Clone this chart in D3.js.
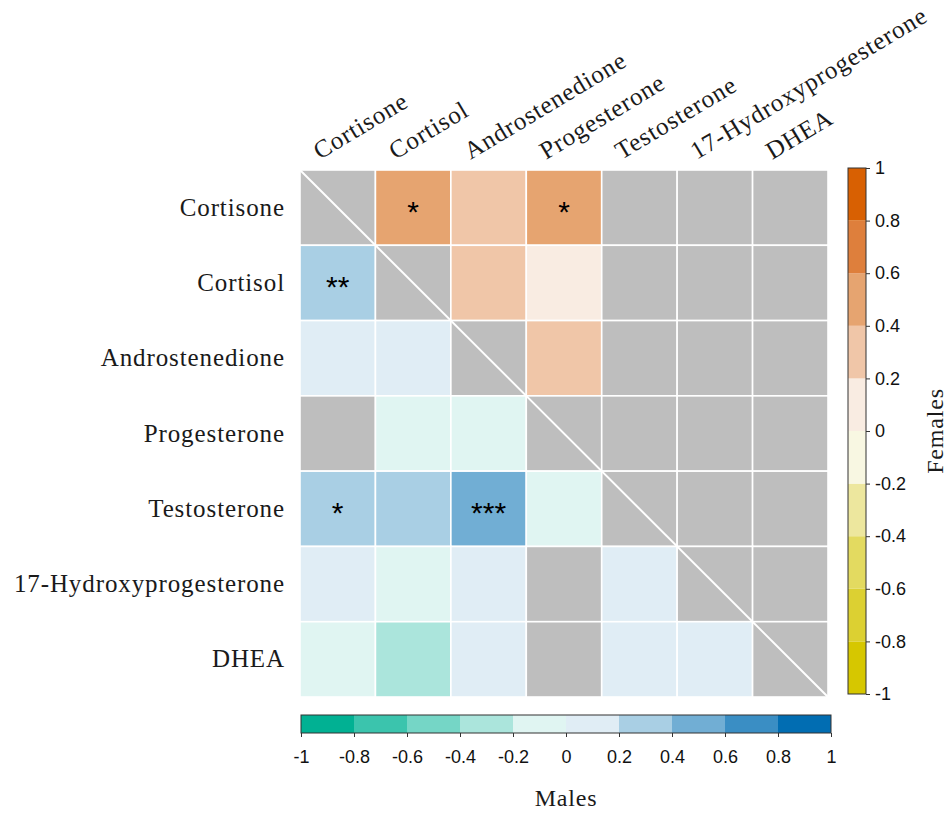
<!DOCTYPE html>
<html>
<head>
<meta charset="utf-8">
<script src="https://cdn.jsdelivr.net/npm/d3@7"></script>
<style>
  html, body { margin: 0; padding: 0; background: #fff; }
  svg { display: block; }
</style>
</head>
<body>
<svg id="chart" width="948" height="814"></svg>
<script>
// Hormones in matrix order (rows top to bottom, columns left to right)
const hormones = ["Cortisone", "Cortisol", "Androstenedione", "Progesterone",
                  "Testosterone", "17-Hydroxyprogesterone", "DHEA"];

// Upper triangle: correlations in females [row, col, r, significance]
const femaleCorr = [
  [0, 1, 0.47, "*"], [0, 2, 0.31, ""], [0, 3, 0.49, "*"],
  [1, 2, 0.33, ""], [1, 3, 0.08, ""],
  [2, 3, 0.32, ""]
];

// Lower triangle: correlations in males [row, col, r, significance]
const maleCorr = [
  [1, 0, 0.34, "**"],
  [2, 0, 0.12, ""], [2, 1, 0.10, ""],
  [3, 1, -0.09, ""], [3, 2, -0.11, ""],
  [4, 0, 0.32, "*"], [4, 1, 0.29, ""], [4, 2, 0.52, "***"], [4, 3, -0.07, ""],
  [5, 0, 0.09, ""], [5, 1, -0.12, ""], [5, 2, 0.13, ""], [5, 4, 0.06, ""],
  [6, 0, -0.14, ""], [6, 1, -0.31, ""], [6, 2, 0.11, ""], [6, 4, 0.15, ""], [6, 5, 0.07, ""]
];

// Ten-step palettes from -1 to 1
const femaleColors = ["#d6c700", "#dcd032", "#e3da60", "#ede79e", "#f8f7e2",
                      "#f9ece2", "#f0c6a8", "#e6a470", "#de7f3c", "#d86002"];
const maleColors = ["#01b193", "#3bc4ad", "#75d6c6", "#abe5dc", "#e0f5f2",
                    "#e0edf5", "#a9cfe4", "#71aed4", "#3a8ec4", "#016db2"];
const tickValues = [-1, -0.8, -0.6, -0.4, -0.2, 0, 0.2, 0.4, 0.6, 0.8, 1];
const missingColor = "#bebebe";

const svg = d3.select("#chart");
const serif = "'Liberation Serif', 'DejaVu Serif', serif";
const sans = "'Liberation Sans', Arial, sans-serif";

const grid = { left: 300, right: 828, top: 170, bottom: 697 };
const x = d3.scaleBand().domain(d3.range(hormones.length)).range([grid.left, grid.right]);
const y = d3.scaleBand().domain(d3.range(hormones.length)).range([grid.top, grid.bottom]);

const femaleScale = d3.scaleQuantize().domain([-1, 1]).range(femaleColors);
const maleScale = d3.scaleQuantize().domain([-1, 1]).range(maleColors);

// Build the full cell list: every cell grey unless a correlation exists
const lookup = new Map();
femaleCorr.forEach(([r, c, v, s]) => lookup.set(r + "-" + c, { v, s, color: femaleScale(v) }));
maleCorr.forEach(([r, c, v, s]) => lookup.set(r + "-" + c, { v, s, color: maleScale(v) }));
const cells = [];
for (let r = 0; r < hormones.length; r++) {
  for (let c = 0; c < hormones.length; c++) {
    const d = lookup.get(r + "-" + c);
    cells.push({ r, c, color: d ? d.color : missingColor, s: d ? d.s : "" });
  }
}

const cellG = svg.append("g");
cellG.selectAll("rect").data(cells).join("rect")
  .attr("x", d => x(d.c))
  .attr("y", d => y(d.r))
  .attr("width", x.bandwidth())
  .attr("height", y.bandwidth())
  .attr("fill", d => d.color)
  .attr("stroke", "#fff")
  .attr("stroke-width", 1.6);

// Diagonal separator
svg.append("line")
  .attr("x1", grid.left).attr("y1", grid.top)
  .attr("x2", grid.right).attr("y2", grid.bottom)
  .attr("stroke", "#fff").attr("stroke-width", 2);

// Significance stars
cellG.selectAll("text").data(cells.filter(d => d.s)).join("text")
  .attr("x", d => x(d.c) + x.bandwidth() / 2)
  .attr("y", d => y(d.r) + y.bandwidth() / 2 + 14)
  .attr("text-anchor", "middle")
  .attr("font-family", sans)
  .attr("font-size", 30)
  .attr("fill", "#000")
  .text(d => d.s);

// Row labels
svg.append("g").selectAll("text").data(hormones).join("text")
  .attr("x", 285)
  .attr("y", (d, i) => y(i) + y.bandwidth() / 2 + 8)
  .attr("text-anchor", "end")
  .attr("font-family", serif)
  .attr("font-size", 25)
  .attr("letter-spacing", 0.9)
  .attr("fill", "#1a1a1a")
  .text(d => d);

// Column labels, tilted
svg.append("g").selectAll("text").data(hormones).join("text")
  .attr("transform", (d, i) => `translate(${x(i) + x.bandwidth() / 2 - 18},160) rotate(-31)`)
  .attr("text-anchor", "start")
  .attr("font-family", serif)
  .attr("font-size", 25)
  .attr("letter-spacing", 0.9)
  .attr("fill", "#1a1a1a")
  .text(d => d);

const plainFormat = d => String(d);

// Vertical colour bar (females)
const vBar = { x: 848, w: 18, top: 168, bottom: 694 };
const vScale = d3.scaleLinear().domain([-1, 1]).range([vBar.bottom, vBar.top]);
const vg = svg.append("g");
vg.selectAll("rect").data(femaleColors).join("rect")
  .attr("x", vBar.x)
  .attr("y", (d, i) => vScale(tickValues[i + 1]))
  .attr("width", vBar.w)
  .attr("height", (d, i) => vScale(tickValues[i]) - vScale(tickValues[i + 1]))
  .attr("fill", d => d);
vg.append("rect")
  .attr("x", vBar.x).attr("y", vBar.top)
  .attr("width", vBar.w).attr("height", vBar.bottom - vBar.top)
  .attr("fill", "none").attr("stroke", "#333").attr("stroke-width", 1);
const vAxis = vg.append("g")
  .attr("transform", `translate(${vBar.x + vBar.w},0)`)
  .call(d3.axisRight(vScale).tickValues(tickValues).tickSize(4).tickPadding(5)
        .tickFormat(plainFormat));
vAxis.select(".domain").remove();
vAxis.selectAll("text").attr("font-family", sans).attr("font-size", 18).attr("fill", "#111");
vAxis.selectAll("line").attr("stroke", "#333");

svg.append("text")
  .attr("transform", `translate(937,${(vBar.top + vBar.bottom) / 2}) rotate(-90)`)
  .attr("text-anchor", "middle")
  .attr("dominant-baseline", "middle")
  .attr("font-family", serif)
  .attr("font-size", 24)
  .attr("letter-spacing", 0.8)
  .attr("fill", "#1a1a1a")
  .text("Females");

// Horizontal colour bar (males)
const hBar = { left: 301, right: 831, y: 715, h: 18 };
const hScale = d3.scaleLinear().domain([-1, 1]).range([hBar.left, hBar.right]);
const hg = svg.append("g");
hg.selectAll("rect").data(maleColors).join("rect")
  .attr("x", (d, i) => hScale(tickValues[i]))
  .attr("y", hBar.y)
  .attr("width", (d, i) => hScale(tickValues[i + 1]) - hScale(tickValues[i]))
  .attr("height", hBar.h)
  .attr("fill", d => d);
hg.append("rect")
  .attr("x", hBar.left).attr("y", hBar.y)
  .attr("width", hBar.right - hBar.left).attr("height", hBar.h)
  .attr("fill", "none").attr("stroke", "#333").attr("stroke-width", 1);
const hAxis = hg.append("g")
  .attr("transform", `translate(0,${hBar.y + hBar.h})`)
  .call(d3.axisBottom(hScale).tickValues(tickValues).tickSize(4).tickPadding(13)
        .tickFormat(plainFormat));
hAxis.select(".domain").remove();
hAxis.selectAll("text").attr("font-family", sans).attr("font-size", 18).attr("fill", "#111");
hAxis.selectAll("line").attr("stroke", "#333");

svg.append("text")
  .attr("x", (hBar.left + hBar.right) / 2)
  .attr("y", 806)
  .attr("text-anchor", "middle")
  .attr("font-family", serif)
  .attr("font-size", 24)
  .attr("letter-spacing", 0.8)
  .attr("fill", "#1a1a1a")
  .text("Males");
</script>
</body>
</html>
